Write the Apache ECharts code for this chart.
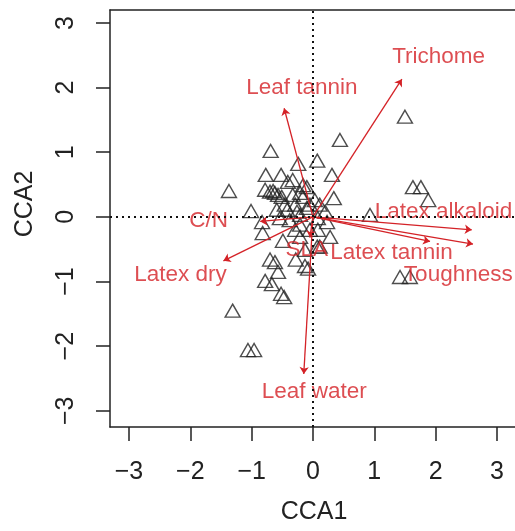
<!DOCTYPE html>
<html>
<head>
<meta charset="utf-8">
<script src="https://cdn.jsdelivr.net/npm/echarts@6/dist/echarts.min.js"></script>
<style>
  html, body { margin: 0; padding: 0; background: #fff; }
  #main { width: 515px; height: 531px; }
</style>
</head>
<body>
<div id="main"></div>
<script>
// site scores (CCA1, CCA2)
var siteX = [1.50, 0.44, -0.69, 0.07, -0.24, -0.77, -0.52, 0.31, -0.33, -1.37,
             1.63, 1.76, 1.88, 0.34, 0.93, -1.01, -0.78, -0.70, -0.62, -0.57,
             -0.51, -0.65, -0.33, -0.21, -0.16, -0.10, -0.59, -0.42, -0.26, 0.20,
             -0.82, -0.49, -0.21, 0.28, 0.11, -0.13, -0.70, -0.62, -0.57, -0.78,
             -0.67, -0.52, -0.47, -0.13, -0.08, -1.31, -1.06, -0.96, 1.42, 1.58,
             -0.05, 0.03, 0.11, -0.29, -0.21, 0.08, 0.23, -0.38, -0.54, -0.21,
             -0.05, -0.29, 0.08, -0.41, -0.16, -0.46, 0.07, -0.28, -0.83, -0.10];
var siteY = [1.55, 1.19, 1.02, 0.87, 0.82, 0.65, 0.65, 0.65, 0.57, 0.40,
             0.46, 0.46, 0.26, 0.29, 0.03, 0.09, 0.42, 0.39, 0.37, 0.34,
             0.31, 0.40, 0.34, 0.37, 0.31, 0.14, 0.11, 0.11, 0.08, 0.08,
             -0.25, -0.37, -0.31, -0.31, -0.46, -0.51, -0.66, -0.70, -0.85, -0.99,
             -1.04, -1.19, -1.24, -0.76, -0.80, -1.45, -2.06, -2.06, -0.93, -0.93,
             0.19, 0.26, 0.19, 0.19, 0.03, -0.02, -0.08, -0.05, -0.02, -0.12,
             -0.20, -0.20, -0.20, 0.54, 0.49, 0.19, -0.46, -0.66, -0.08, 0.46];

// environmental vectors
var varNames = ['Trichome', 'Leaf tannin', 'Latex alkaloid', 'Toughness', 'Latex tannin',
                'C/N', 'Latex dry', 'Leaf water', 'SLA'];
var arrowX = [1.45, -0.47, 2.59, 2.61, 1.91, -0.86, -1.46, -0.15, -0.05];
var arrowY = [2.13, 1.68, -0.20, -0.42, -0.38, -0.07, -0.68, -2.43, -0.32];
var labelX = [2.05, -0.18, 2.13, 2.37, 1.28, -1.70, -2.16, 0.02, -0.10];
var labelY = [2.48, 2.00, 0.08, -0.90, -0.55, -0.06, -0.90, -2.70, -0.51];

var ticks = [-3, -2, -1, 0, 1, 2, 3];
var red = '#d42227';
var fmt = function (v) { return v < 0 ? '\u2212' + (-v) : String(v); };

var myChart = echarts.init(document.getElementById('main'));

var sites = siteX.map(function (x, i) { return [x, siteY[i]]; });
var arrows = varNames.map(function (n, i) {
  return { coords: [[0, 0], [arrowX[i], arrowY[i]]] };
});
var labels = varNames.map(function (n, i) { return [labelX[i], labelY[i], n]; });

var lineStyle = { color: '#222', width: 1.5 };

option = {
  animation: false,
  grid: { left: 110, top: 10, right: 0, height: 417 },
  xAxis: [{
    type: 'value', min: -3.31, max: 3.295,
    axisLine: { show: true, onZero: false, lineStyle: lineStyle },
    axisTick: { show: true, length: 14, customValues: ticks, lineStyle: lineStyle },
    splitLine: { show: false },
    axisLabel: { customValues: ticks, formatter: fmt, margin: 33,
                 fontFamily: 'Liberation Sans', fontSize: 25, color: '#222' }
  }, {
    // top border of the box
    type: 'value', position: 'top', min: -3.31, max: 3.295,
    axisLine: { show: true, onZero: false, lineStyle: lineStyle },
    axisTick: { show: false }, axisLabel: { show: false }, splitLine: { show: false }
  }],
  yAxis: {
    type: 'value', min: -3.25, max: 3.20,
    axisLine: { show: true, onZero: false, lineStyle: lineStyle },
    axisTick: { show: true, length: 14, customValues: ticks, lineStyle: lineStyle },
    splitLine: { show: false },
    axisLabel: { customValues: ticks, formatter: fmt, margin: 31, rotate: 90,
                 fontFamily: 'Liberation Sans', fontSize: 25, color: '#222' }
  },
  graphic: [
    { type: 'text', x: 314, y: 512, style: { text: 'CCA1', font: '25px "Liberation Sans"', fill: '#222', textAlign: 'center', textVerticalAlign: 'middle' } },
    { type: 'text', x: 25, y: 204, rotation: Math.PI / 2, style: { text: 'CCA2', font: '25px "Liberation Sans"', fill: '#222', textAlign: 'center', textVerticalAlign: 'middle' } }
  ],
  series: [
    {
      type: 'scatter',
      data: sites,
      symbol: 'triangle',
      symbolSize: [15, 13],
      itemStyle: { color: 'rgba(255,255,255,0)', borderColor: '#222', borderWidth: 1.4 },
      markLine: {
        silent: true,
        symbol: 'none',
        label: { show: false },
        lineStyle: { color: '#111', type: [2, 4], width: 2 },
        data: [{ xAxis: 0 }, { yAxis: 0 }]
      },
      z: 2
    },
    {
      type: 'lines',
      coordinateSystem: 'cartesian2d',
      data: arrows,
      symbol: ['none', 'arrow'],
      symbolSize: 7,
      lineStyle: { color: red, width: 1.3, opacity: 1 },
      z: 3
    },
    {
      type: 'scatter',
      data: labels,
      symbolSize: 0,
      label: {
        show: true,
        position: 'inside',
        formatter: function (p) { return p.data[2]; },
        color: red,
        fontFamily: 'Liberation Sans',
        fontSize: 22.5
      },
      z: 4
    }
  ]
};

myChart.setOption(option);
</script>
</body>
</html>
